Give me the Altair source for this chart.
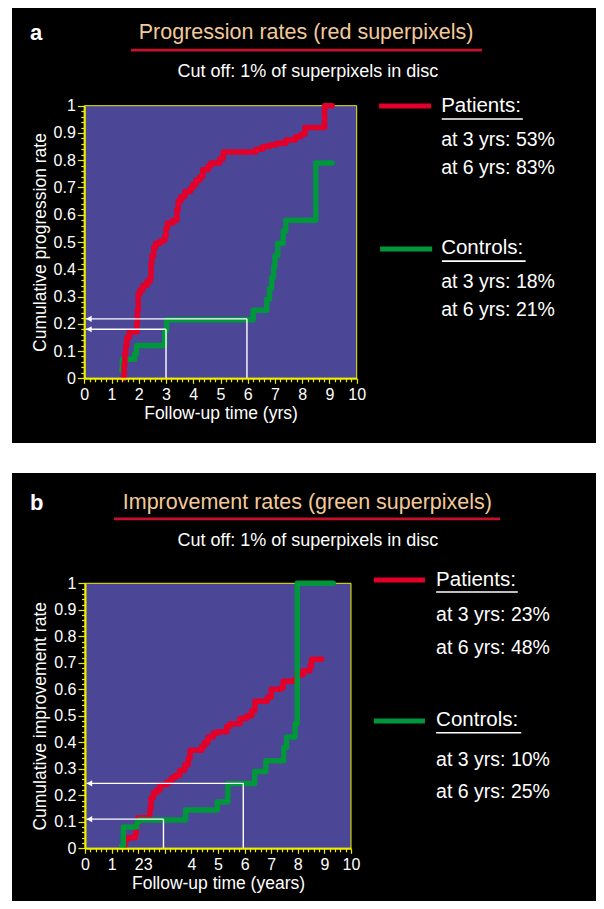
import altair as alt
import pandas as pd

FONT = "Liberation Sans, Arial, Helvetica, sans-serif"
BLUE = "#4b4696"
YEL = "#eeee00"
RED = "#e2002a"
GRN = "#00963c"
TAN = "#f3c99a"
ULINE = "#c8102e"

# ---------------- panel a data (progression) ----------------
A_PAT_T = [1.43, 1.46, 1.49, 1.52, 1.56, 1.65, 1.93, 1.95, 1.98, 2.05, 2.15, 2.30, 2.42, 2.45, 2.48,
           2.55, 2.62, 2.80, 2.95, 3.00, 3.05, 3.25, 3.40, 3.45, 3.55, 3.70, 3.90, 3.98, 4.10, 4.25,
           4.35, 4.55, 4.65, 4.97, 5.10, 6.30, 6.55, 6.80, 7.05, 7.40, 7.75, 7.95, 8.10, 8.82, 9.10]
A_PAT_V = [0.00, 0.05, 0.09, 0.12, 0.15, 0.17, 0.20, 0.25, 0.31, 0.325, 0.34, 0.355, 0.37, 0.42, 0.45,
           0.48, 0.495, 0.505, 0.52, 0.55, 0.57, 0.58, 0.62, 0.65, 0.667, 0.685, 0.697, 0.71, 0.727, 0.74,
           0.765, 0.78, 0.79, 0.805, 0.83, 0.84, 0.85, 0.856, 0.862, 0.874, 0.886, 0.895, 0.92, 1.0, 1.0]
A_CON_T = [1.37, 1.40, 1.85, 1.92, 2.95, 3.02, 6.20, 6.70, 6.80, 6.88, 6.95, 7.00, 7.10, 7.30, 7.40, 8.50, 9.10]
A_CON_V = [0.03, 0.07, 0.09, 0.12, 0.175, 0.215, 0.25, 0.29, 0.33, 0.37, 0.41, 0.45, 0.495, 0.54, 0.58, 0.79, 0.79]
A_GUIDE_X = [3.0, 0.05, 5.97, 0.05]
A_GUIDE_X2 = [3.0, 3.0, 5.97, 5.97]
A_GUIDE_Y = [0.0, 0.18, 0.0, 0.218]
A_GUIDE_Y2 = [0.18, 0.18, 0.218, 0.218]
A_LEGEND = ["Patients:", "at 3 yrs: 53%", "at 6 yrs: 83%", "Controls:", "at 3 yrs: 18%", "at 6 yrs: 21%"]

# ---------------- panel b data (improvement) ----------------
B_PAT_T = [1.44, 1.50, 1.57, 1.88, 1.92, 2.00, 2.44, 2.48, 2.57, 2.70, 2.82, 3.07, 3.25, 3.38, 3.56,
           3.75, 3.88, 3.95, 4.39, 4.50, 4.63, 4.82, 5.00, 5.33, 5.45, 5.83, 6.08, 6.27, 6.39, 6.85,
           7.00, 7.35, 7.45, 7.85, 7.96, 8.20, 8.46, 8.52, 8.90]
B_PAT_V = [0.01, 0.03, 0.04, 0.05, 0.09, 0.115, 0.15, 0.19, 0.21, 0.22, 0.24, 0.25, 0.265, 0.275, 0.295,
           0.315, 0.34, 0.37, 0.385, 0.40, 0.42, 0.435, 0.44, 0.46, 0.47, 0.49, 0.50, 0.52, 0.555, 0.57,
           0.60, 0.605, 0.63, 0.635, 0.655, 0.67, 0.69, 0.713, 0.713]
B_CON_T = [1.38, 1.44, 1.94, 1.97, 2.03, 3.78, 4.97, 5.37, 6.38, 6.80, 7.47, 7.58, 7.90, 7.98, 9.33]
B_CON_V = [0.01, 0.08, 0.09, 0.10, 0.107, 0.145, 0.175, 0.245, 0.29, 0.33, 0.38, 0.42, 0.47, 1.0, 1.0]
B_GUIDE_X = [2.95, 0.05, 5.95, 0.05]
B_GUIDE_X2 = [2.95, 2.95, 5.95, 5.95]
B_GUIDE_Y = [0.0, 0.11, 0.0, 0.245]
B_GUIDE_Y2 = [0.11, 0.11, 0.245, 0.245]
B_LEGEND = ["Patients:", "at 3 yrs: 23%", "at 6 yrs: 48%", "Controls:", "at 3 yrs: 10%", "at 6 yrs: 25%"]

X_TICKS = [round(i * 0.2, 1) for i in range(51)]
Y_TICKS = [round(i * 0.02, 2) for i in range(51)]
MAJOR_X = "abs(datum.value - round(datum.value)) < 0.01"
MAJOR_Y = "abs(datum.value * 10 - round(datum.value * 10)) < 0.01"


def panel(cfg):
    xs = alt.Scale(domain=[0, 10], range=cfg["xrange"], nice=False, zero=False)
    ys = alt.Scale(domain=[0, 1], range=cfg["yrange"], nice=False, zero=False)
    height = cfg["height"]

    x_axis = alt.Axis(
        values=X_TICKS, labelExpr=cfg["xlabel"], title=cfg["xtitle"], orient="bottom",
        offset=-(height - cfg["yrange"][0]), domainColor=YEL, domainWidth=2, tickColor=YEL,
        tickWidth=1.2, tickSize={"condition": {"test": MAJOR_X, "value": 5}, "value": 3.5},
        labelOffset={"condition": {"test": "abs(datum.value - 2) < 0.01", "value": cfg["lab2off"]}, "value": 0},
        labelColor="white", labelFont=FONT, labelFontSize=16, labelPadding=3, labelFlush=False,
        labelOverlap=False, titleColor="white", titleFont=FONT, titleFontSize=17.5,
        titleFontWeight="normal", titlePadding=2, grid=False, zindex=1)
    y_axis = alt.Axis(
        values=Y_TICKS, labelExpr=MAJOR_Y + " ? format(datum.value, '.1~f') : ''",
        title=cfg["ytitle"], orient="left", offset=-cfg["xrange"][0], domainColor=YEL,
        domainWidth=2, tickColor=YEL, tickWidth=1.2,
        tickSize={"condition": {"test": MAJOR_Y, "value": 7}, "value": 3.5},
        labelColor="white", labelFont=FONT, labelFontSize=16, labelPadding=2, labelFlush=False,
        labelOverlap=False, titleColor="white", titleFont=FONT, titleFontSize=17.5,
        titleFontWeight="normal", titlePadding=4, grid=False, zindex=1)

    def X(f):
        return alt.X(f, scale=xs, axis=x_axis)

    def Y(f):
        return alt.Y(f, scale=ys, axis=y_axis)

    frame = pd.DataFrame({"x": [0], "x2": [10], "y": [0], "y2": [1]})
    bg = alt.Chart(frame).mark_rect(fill=BLUE, stroke=YEL, strokeWidth=1).encode(
        x=X("x:Q"), x2="x2", y=Y("y:Q"), y2="y2")

    def curve(t, v, color):
        df = pd.DataFrame({"t": t, "v": v})
        return alt.Chart(df).mark_line(interpolate="step-after", color=color, strokeWidth=5.5,
                                       strokeCap="round", strokeJoin="round").encode(
            x=X("t:Q"), y=Y("v:Q"), order="t:Q")

    g = pd.DataFrame({"x": cfg["gx"], "x2": cfg["gx2"], "y": cfg["gy"], "y2": cfg["gy2"]})
    guides = alt.Chart(g).mark_rule(color="white", strokeWidth=1.4).encode(
        x=X("x:Q"), x2="x2", y=Y("y:Q"), y2="y2")
    hd = g[g["y"] == g["y2"]].assign(hx=0.17)
    heads = alt.Chart(hd).mark_point(
        shape="triangle-left", filled=True, color="white", size=38, opacity=1).encode(
        x=X("hx:Q"), y=Y("y:Q"))

    t = cfg["texts"]
    center = pd.DataFrame({"x": [t["title"][0], t["sub"][0]], "y": [t["title"][1], t["sub"][1]],
                           "text": [cfg["title"], "Cut off: 1% of superpixels in disc"],
                           "fs": [21.5, 18], "col": [TAN, "white"]})
    ctext = alt.Chart(center).mark_text(font=FONT, baseline="middle", align="center").encode(
        x=X("x:Q"), y=Y("y:Q"), text="text:N",
        size=alt.Size("fs:Q", scale=None), color=alt.Color("col:N", scale=None))
    letter = alt.Chart(pd.DataFrame({"x": [t["letter"][0]], "y": [t["letter"][1]], "text": [cfg["letter"]]})
                       ).mark_text(font=FONT, fontWeight="bold", fontSize=22, color="white",
                                   align="left", baseline="middle").encode(
        x=X("x:Q"), y=Y("y:Q"), text="text:N")
    leg = pd.DataFrame({"x": [t["legx"]] * 6, "y": t["legy"], "text": cfg["legend"],
                        "fs": [20.5, 19.5, 19.5, 20.5, 19.5, 19.5]})
    ltext = alt.Chart(leg).mark_text(font=FONT, baseline="middle", align="left", color="white").encode(
        x=X("x:Q"), y=Y("y:Q"), text="text:N",
        size=alt.Size("fs:Q", scale=None))
    r = pd.DataFrame(t["rules"], columns=["x", "x2", "y", "col", "sw"])
    rules = alt.Chart(r).mark_rule().encode(
        x=X("x:Q"), x2="x2", y=Y("y:Q"),
        color=alt.Color("col:N", scale=None), strokeWidth=alt.StrokeWidth("sw:Q", scale=None))

    layers = [bg]
    if cfg["green_top"]:
        layers += [curve(cfg["pt"], cfg["pv"], RED), curve(cfg["ct"], cfg["cv"], GRN)]
    else:
        layers += [curve(cfg["ct"], cfg["cv"], GRN), curve(cfg["pt"], cfg["pv"], RED)]
    layers += [guides, heads, ctext, letter, ltext, rules]
    return alt.layer(*layers).properties(width=584, height=height)


XLAB_A = MAJOR_X + " ? '' + round(datum.value) : ''"
XLAB_B = ("abs(datum.value - 2) < 0.01 ? '23' : (abs(datum.value - 3) < 0.01 ? '' : (" +
          MAJOR_X + " ? '' + round(datum.value) : ''))")

cfg_a = dict(
    xrange=[72.3, 344.7], yrange=[370.3, 97.7], height=435,
    xlabel=XLAB_A, lab2off=0, xtitle="Follow-up time (yrs)", ytitle="Cumulative progression rate",
    pt=A_PAT_T, pv=A_PAT_V, ct=A_CON_T, cv=A_CON_V, green_top=False,
    gx=A_GUIDE_X, gx2=A_GUIDE_X2, gy=A_GUIDE_Y, gy2=A_GUIDE_Y2,
    title="Progression rates (red superpixels)", letter="a", legend=A_LEGEND,
    texts=dict(title=(8.14, 1.267), sub=(8.21, 1.124), letter=(-1.99, 1.267), legx=13.1,
               legy=[0.999, 0.874, 0.773, 0.478, 0.354, 0.251],
               rules=[(1.71, 14.6, 1.204, ULINE, 2.6),
                      (10.82, 12.73, 0.999, RED, 5), (13.12, 16.1, 0.951, "white", 1.6),
                      (10.86, 12.77, 0.474, GRN, 5), (13.13, 16.2, 0.430, "white", 1.6)]),
)
cfg_b = dict(
    xrange=[73.0, 339.0], yrange=[375.3, 110.3], height=428,
    xlabel=XLAB_B, lab2off=5, xtitle="Follow-up time (years)", ytitle="Cumulative improvement rate",
    pt=B_PAT_T, pv=B_PAT_V, ct=B_CON_T, cv=B_CON_V, green_top=True,
    gx=B_GUIDE_X, gx2=B_GUIDE_X2, gy=B_GUIDE_Y, gy2=B_GUIDE_Y2,
    title="Improvement rates (green superpixels)", letter="b", legend=B_LEGEND,
    texts=dict(title=(8.36, 1.303), sub=(8.38, 1.160), letter=(-2.07, 1.303), legx=13.2,
               legy=[1.012, 0.880, 0.756, 0.484, 0.333, 0.214],
               rules=[(1.09, 15.6, 1.243, ULINE, 2.6),
                      (10.86, 12.78, 1.012, RED, 5), (13.2, 16.27, 0.967, "white", 1.6),
                      (10.86, 12.78, 0.480, GRN, 5), (13.2, 16.4, 0.436, "white", 1.6)]),
)

chart = alt.vconcat(panel(cfg_a), panel(cfg_b), spacing=30, bounds="flush").properties(
    background="white", padding={"left": 4, "top": 0, "right": 0, "bottom": 0}
).configure_view(fill="black", stroke="black", strokeWidth=0)

chart.save("out.html", embed_options={"renderer": "svg", "actions": False})
